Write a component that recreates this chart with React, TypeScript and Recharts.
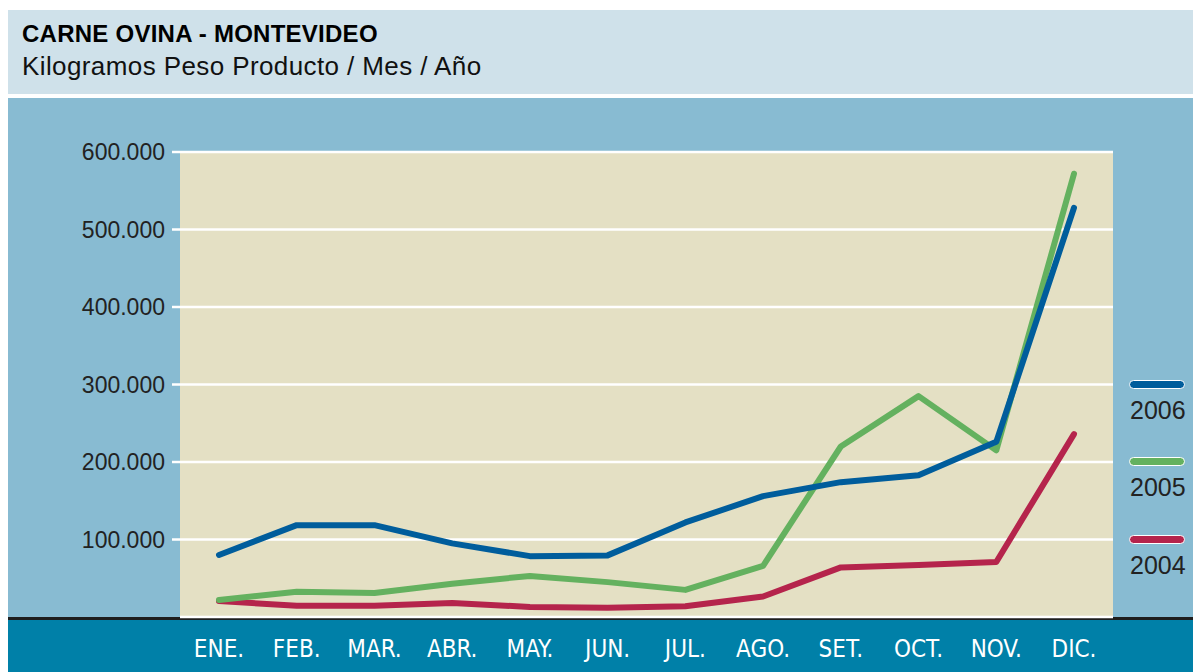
import { CartesianGrid, Line, LineChart, XAxis, YAxis } from 'recharts';

const months = ['ENE.', 'FEB.', 'MAR.', 'ABR.', 'MAY.', 'JUN.', 'JUL.', 'AGO.', 'SET.', 'OCT.', 'NOV.', 'DIC.'];
const kg2006 = [80000, 118500, 118500, 95000, 78500, 79500, 122000, 156000, 174000, 183000, 226000, 528000];
const kg2005 = [22000, 32500, 31000, 43000, 53000, 45000, 35000, 66000, 220000, 285000, 215000, 572000];
const kg2004 = [20500, 14500, 14500, 18000, 13000, 12000, 14000, 26500, 64000, 67000, 71000, 236000];
const yTicks = [100000, 200000, 300000, 400000, 500000, 600000];

const series = [
  { key: 'y2004', name: '2004', color: '#b5244c' },
  { key: 'y2005', name: '2005', color: '#64b15f' },
  { key: 'y2006', name: '2006', color: '#005d9c' },
];
const legendOrder = ['2006', '2005', '2004'];

const data = months.map((m, i) => ({
  month: m,
  y2004: kg2004[i],
  y2005: kg2005[i],
  y2006: kg2006[i],
}));

// 600000 -> "600.000"
const fmtTick = (v: number) => String(Math.round(v)).replace(/\B(?=(\d{3})+(?!\d))/g, '.');

const sans = '"Liberation Sans", Arial, sans-serif';
const narrow = '"Liberation Sans Narrow", "DejaVu Sans Condensed", "Liberation Sans", sans-serif';

export default function App() {
  return (
    <div style={{ position: 'relative', width: 1193, height: 672, fontFamily: sans, overflow: 'hidden' }}>
      <style>{'html,body{margin:0;padding:0;overflow:hidden;}'}</style>
      <div
        style={{
          position: 'absolute',
          top: 10,
          left: 8,
          width: 1185,
          height: 84,
          background: '#cfe1ea',
        }}
      >
        <div
          style={{
            position: 'absolute',
            left: 14,
            top: 12,
            fontSize: 24,
            lineHeight: '24px',
            fontWeight: 'bold',
            color: '#000',
            letterSpacing: 0.25,
          }}
        >
          CARNE OVINA - MONTEVIDEO
        </div>
        <div
          style={{
            position: 'absolute',
            left: 14,
            top: 43,
            fontSize: 26,
            lineHeight: '26px',
            color: '#111',
            letterSpacing: 0.4,
          }}
        >
          Kilogramos Peso Producto / Mes / Año
        </div>
      </div>

      <div
        style={{
          position: 'absolute',
          top: 98,
          left: 8,
          width: 1185,
          height: 574,
          background: '#88bbd2',
        }}
      >
        <div
          style={{
            position: 'absolute',
            top: 519,
            left: 0,
            width: 1185,
            height: 55,
            boxSizing: 'border-box',
            borderTop: '3px solid #1e1e1e',
            background: '#0080a8',
          }}
        />
        <div style={{ position: 'absolute', top: 0, left: 0 }}>
          <LineChart width={1185} height={574} data={data} margin={{ top: 54, right: 80, bottom: 0, left: 0 }}>
            <CartesianGrid
              vertical={false}
              stroke="#ffffff"
              strokeWidth={2.5}
              fill="#e4e0c4"
              fillOpacity={1}
            />
            <XAxis
              dataKey="month"
              height={55}
              padding={{ left: 39, right: 39 }}
              axisLine={false}
              tickLine={false}
              tickSize={0}
              tickMargin={23}
              interval={0}
              tick={{ fill: '#ffffff', fontSize: 24, fontFamily: narrow }}
            />
            <YAxis
              width={172}
              domain={[0, 600000]}
              ticks={yTicks}
              interval={0}
              axisLine={false}
              tickSize={8}
              tickMargin={7}
              tickLine={{ stroke: '#ffffff', strokeWidth: 2.5 }}
              tickFormatter={fmtTick}
              tick={{ fill: '#222222', fontSize: 23, fontFamily: sans }}
            />
            {series.map((s) => (
              <Line
                key={s.key}
                type="linear"
                dataKey={s.key}
                name={s.name}
                stroke={s.color}
                strokeWidth={6}
                strokeLinecap="round"
                strokeLinejoin="round"
                dot={false}
                activeDot={false}
                isAnimationActive={false}
              />
            ))}
          </LineChart>
        </div>

        {legendOrder.map((name, i) => {
          const s = series.find((x) => x.name === name)!;
          return (
            <div key={name} style={{ position: 'absolute', left: 1121, top: 281.5 + i * 77.5, width: 60 }}>
              <div
                style={{
                  width: 56,
                  height: 9,
                  borderRadius: 5,
                  border: '1px solid #ffffff',
                  boxSizing: 'border-box',
                  background: s.color,
                }}
              />
              <div
                style={{
                  marginTop: 9,
                  fontSize: 25,
                  lineHeight: '25px',
                  color: '#222222',
                  paddingLeft: 1,
                }}
              >
                {name}
              </div>
            </div>
          );
        })}
      </div>
    </div>
  );
}
